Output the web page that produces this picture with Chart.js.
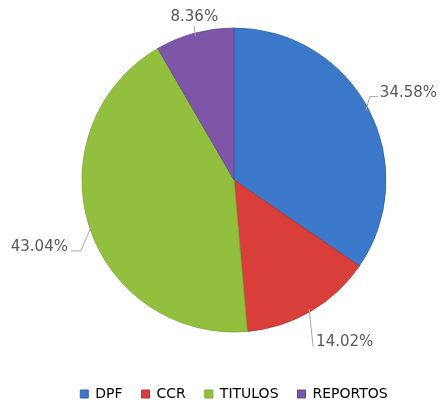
<!DOCTYPE html>
<html>
<head>
<meta charset="utf-8">
<script src="https://cdn.jsdelivr.net/npm/chart.js@4.4.1/dist/chart.umd.min.js"></script>
<style>
  html, body { margin: 0; padding: 0; background: #fff; }
  #wrap { width: 442px; height: 404px; position: relative; overflow: hidden; }
  #inner { width: 468px; height: 412px; position: absolute; left: 0; top: -8px; }
</style>
</head>
<body>
<div id="wrap"><div id="inner"><canvas id="pie"></canvas></div></div>
<script>
// data
const categories = ['DPF', 'CCR', 'TITULOS', 'REPORTOS'];
const shares = [34.58, 14.02, 43.04, 8.36];

const baseColors = ['#3c78c9', '#d83f3b', '#93bf3f', '#7d56a8'];
const lightColors = ['#4a86d6', '#e2504c', '#a0ca4c', '#8a63b5'];
const edgeColors = ['#2f63a8', '#b8312e', '#7ca632', '#684690'];

// where the data labels sit relative to the slice edge (style only)
const labelOffsets = [[4, -14], [4, 38], [-11, 26], [-1, -10]];
const labelHooks = [8, 0, -10, 0];

// radial shading like the office chart
function shade(ctx) {
  const i = ctx.dataIndex;
  const el = ctx.element;
  if (!el || el.outerRadius == null || !el.x) return baseColors[i];
  const g = ctx.chart.ctx.createRadialGradient(el.x, el.y, 0, el.x, el.y, el.outerRadius);
  g.addColorStop(0, lightColors[i]);
  g.addColorStop(0.88, baseColors[i]);
  g.addColorStop(0.97, baseColors[i]);
  g.addColorStop(1, edgeColors[i]);
  return g;
}

// outside labels with leader lines
const leaderLabels = {
  id: 'leaderLabels',
  afterDatasetsDraw(chart) {
    const c = chart.ctx;
    const meta = chart.getDatasetMeta(0);
    c.save();
    c.font = '15px "DejaVu Sans", sans-serif';
    c.fillStyle = '#595959';
    c.strokeStyle = '#a6a6a6';
    c.lineWidth = 1;
    c.textBaseline = 'middle';
    meta.data.forEach((arc, i) => {
      const p = arc.getProps(['x', 'y', 'startAngle', 'endAngle', 'outerRadius'], true);
      const mid = (p.startAngle + p.endAngle) / 2;
      const ux = Math.cos(mid), uy = Math.sin(mid);
      const x0 = p.x + ux * (p.outerRadius - 3), y0 = p.y + uy * (p.outerRadius - 3);
      const x1 = x0 + labelOffsets[i][0], y1 = y0 + labelOffsets[i][1];
      const hook = labelHooks[i];
      const txt = shares[i].toFixed(2) + '%';
      c.beginPath();
      c.moveTo(x0, y0);
      c.lineTo(x1, y1);
      let tx, ty;
      if (hook === 0) {
        c.stroke();
        if (uy < 0) {
          c.textAlign = 'center';
          tx = x1; ty = y1 - 9;
        } else {
          c.textAlign = 'left';
          tx = x1 + 3; ty = y1 - 5;
        }
      } else {
        const hx = x1 + hook;
        c.lineTo(hx, y1);
        c.stroke();
        c.textAlign = hook > 0 ? 'left' : 'right';
        tx = hx + (hook > 0 ? 2 : -3);
        ty = y1 - 4;
      }
      c.fillText(txt, tx, ty);
    });
    c.restore();
  }
};

new Chart(document.getElementById('pie'), {
  type: 'pie',
  data: {
    labels: categories,
    datasets: [{
      data: shares,
      backgroundColor: shade,
      borderColor: edgeColors,
      borderWidth: 0.8,
      radius: 152
    }]
  },
  options: {
    responsive: true,
    maintainAspectRatio: false,
    animation: false,
    layout: { padding: { left: 0, right: 0, top: 0, bottom: -7 } },
    plugins: {
      tooltip: { enabled: false },
      legend: {
        position: 'bottom',
        labels: {
          boxWidth: 8,
          boxHeight: 8,
          padding: 19,
          color: '#595959',
          font: { family: '"DejaVu Sans", sans-serif', size: 14 },
          generateLabels(chart) {
            return categories.map((name, i) => ({
              text: name,
              fillStyle: baseColors[i],
              strokeStyle: edgeColors[i],
              lineWidth: 1,
              index: i
            }));
          }
        }
      }
    }
  },
  plugins: [leaderLabels]
});
</script>
</body>
</html>
